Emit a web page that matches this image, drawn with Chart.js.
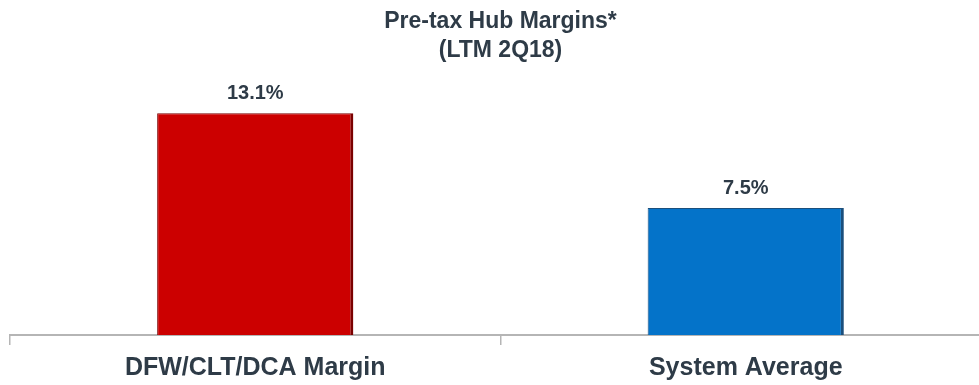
<!DOCTYPE html>
<html>
<head>
<meta charset="utf-8">
<script src="https://cdn.jsdelivr.net/npm/chart.js@4.4.1/dist/chart.umd.min.js"></script>
<style>
  html, body { margin: 0; padding: 0; background: #ffffff; overflow: hidden; }
  #wrap { position: relative; width: 991px; height: 385px; }
</style>
</head>
<body>
<div id="wrap"><canvas id="c"></canvas></div>
<script>
const titleLines = ['Pre-tax Hub Margins*', '(LTM 2Q18)'];
const categories = ['DFW/CLT/DCA Margin', 'System Average'];
const marginValues = [13.1, 7.5];

const barFills = ['#cc0000', '#0473c9'];
const barEdges = ['#7a0000', '#1b4f7c'];
const textColor = '#2e3b47';

const valueLabelPlugin = {
  id: 'valueLabels',
  afterDatasetsDraw(chart) {
    const ctx = chart.ctx;
    const meta = chart.getDatasetMeta(0);
    ctx.save();
    ctx.font = 'bold 20px "Liberation Sans", Arial, sans-serif';
    ctx.fillStyle = textColor;
    ctx.textAlign = 'center';
    ctx.textBaseline = 'middle';
    meta.data.forEach((bar, i) => {
      const v = chart.data.datasets[0].data[i];
      ctx.fillText(v.toFixed(1) + '%', bar.x, bar.y - 20);
    });
    ctx.restore();
  }
};

new Chart(document.getElementById('c'), {
  type: 'bar',
  data: {
    labels: categories,
    datasets: [{
      data: marginValues,
      backgroundColor: barFills,
      borderColor: barEdges,
      borderWidth: { top: 1, left: 1, right: 3, bottom: 0 },
      borderSkipped: false,
      barPercentage: 0.4,
      categoryPercentage: 1.0
    }]
  },
  options: {
    responsive: true,
    maintainAspectRatio: false,
    animation: false,
    layout: { padding: { left: 10, right: 0, top: 0, bottom: -6 } },
    plugins: {
      legend: { display: false },
      tooltip: { enabled: false },
      title: {
        display: true,
        text: titleLines,
        color: textColor,
        font: { family: '"Liberation Sans", Arial, sans-serif', size: 23, weight: 'bold', lineHeight: '29px' },
        padding: { top: 7, bottom: 16 }
      }
    },
    scales: {
      y: {
        display: false,
        min: 0,
        max: 15
      },
      x: {
        offset: true,
        border: { display: true, color: '#b5b5b5', width: 2 },
        grid: {
          offset: true,
          drawOnChartArea: false,
          drawTicks: true,
          tickLength: 10,
          color: '#b5b5b5',
          lineWidth: 1.5
        },
        ticks: {
          color: textColor,
          padding: 8,
          font: { family: '"Liberation Sans", Arial, sans-serif', size: 25, weight: 'bold', lineHeight: 1.2 }
        }
      }
    }
  },
  plugins: [valueLabelPlugin]
});
</script>
</body>
</html>
